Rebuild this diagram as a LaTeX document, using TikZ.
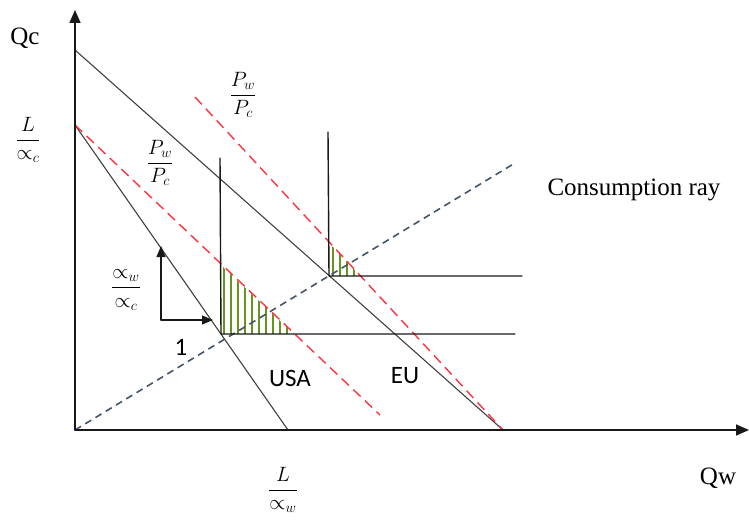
\documentclass[tikz,border=0pt]{standalone}
\usepackage{amsmath}
\usepackage{fontspec}
\setmainfont{Liberation Serif}
\newfontfamily\calfont{Carlito}
\usetikzlibrary{arrows.meta}
\begin{document}
\begin{tikzpicture}[yscale=-1, x=1pt, y=1pt, line join=round, line cap=round]
% Colour definitions
\definecolor{axiscol}{rgb}{0.1,0.1,0.1}
\definecolor{prodcol}{rgb}{0.25,0.25,0.25}
\definecolor{pricecol}{rgb}{1,0.2,0.25}
\definecolor{raycol}{rgb}{0.27,0.33,0.42}
\definecolor{hatchcol}{rgb}{0.4,0.58,0.12}
% End of colour definitions
\tikzset{
  axisline/.style={color=axiscol, line width=1.6pt, -{Triangle[length=13pt,width=11pt]}},
  prodline/.style={color=prodcol, line width=1.1pt},
  cornerline/.style={color=axiscol, line width=1.4pt},
  priceline/.style={color=pricecol, line width=1.4pt, line cap=butt, dash pattern=on 10pt off 6pt},
  rayline/.style={color=raycol, line width=1.6pt, line cap=butt, dash pattern=on 7pt off 5pt},
  hatchline/.style={color=hatchcol, line width=1.4pt},
  stepmark/.style={color=axiscol, line width=1.2pt, -{Triangle[length=11pt,width=9pt]}},
  serlabel/.style={font=\fontsize{25}{28}\selectfont},
  sanlabel/.style={font=\calfont\fontsize{25}{28}\selectfont},
  ratiolabel/.style={font=\fontsize{21}{25}\selectfont}
}
\useasboundingbox (0,0) rectangle (749,524);
% Points
\coordinate (O) at (75,430);
\coordinate (ytop) at (75,10);
\coordinate (xend) at (749,430);
\coordinate (euA) at (75,50);
\coordinate (euB) at (503,430);
\coordinate (usA) at (75,125);
\coordinate (usB) at (288,430);
\coordinate (rayend) at (515,163);
\coordinate (usC) at (221,334);
\coordinate (usV) at (220,158);
\coordinate (usH) at (515,334);
\coordinate (euC) at (329,276);
\coordinate (euV) at (328,132);
\coordinate (euH) at (522,276);
\coordinate (stepC) at (161,320);
% Hatched triangles
\begin{scope}
\clip (221,334) -- (221,265) -- (294,334) -- cycle;
\foreach \x in {224,231,...,294}
  \draw[hatchline] (\x,250) -- (\x,340);
\end{scope}
\begin{scope}
\clip (329,276) -- (329,243) -- (361,276) -- cycle;
\foreach \x in {333,340,...,361}
  \draw[hatchline] (\x,230) -- (\x,280);
\end{scope}
% Production and price lines
\draw[prodline] (euA) -- (euB);
\draw[prodline] (usA) -- (usB);
\draw[priceline] (usA) -- (380,415);
\draw[priceline] (195,97) -- (euB);
\draw[rayline] (O) -- (rayend);
% Corner lines
\draw[cornerline] (usV) -- (usC) -- (usH);
\draw[cornerline] (euV) -- (euC) -- (euH);
% Axes
\draw[axisline] (O) -- (ytop);
\draw[axisline] (O) -- (xend);
% Step arrows
\draw[stepmark] (stepC) -- (161,246);
\draw[stepmark] (stepC) -- (213,320);
% Labels
\node[serlabel] (qc) at (25,38) {Qc};
\node[serlabel] (qw) at (718,478) {Qw};
\node[serlabel] (ray) at (634,190) {Consumption ray};
\node[sanlabel] (usa) at (290,378) {USA};
\node[sanlabel] (eu) at (405,376) {EU};
\node[sanlabel] (one) at (181,347) {1};
\node[ratiolabel] (lc) at (28,140) {$\dfrac{L}{\propto_c}$};
\node[ratiolabel] (lw) at (283,490) {$\dfrac{L}{\propto_w}$};
\node[ratiolabel] (pup) at (243,95) {$\dfrac{P_w}{P_c}$};
\node[ratiolabel] (plow) at (160,163) {$\dfrac{P_w}{P_c}$};
\node[ratiolabel] (aw) at (126,290) {$\dfrac{\propto_w}{\propto_c}$};
\end{tikzpicture}
\end{document}
